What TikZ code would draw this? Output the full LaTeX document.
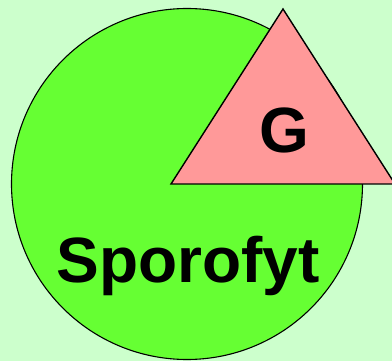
\documentclass[tikz,border=0pt]{standalone}
\usepackage{fontspec}
\setmainfont{Liberation Sans}
\usetikzlibrary{positioning}
\definecolor{bgmint}{HTML}{CCFFCC}
\definecolor{sporogreen}{HTML}{66FF33}
\definecolor{gamepink}{HTML}{FF9999}
\begin{document}
\begin{tikzpicture}[
  x=1pt, y=-1pt,
  label/.style={font=\bfseries, text=black, inner sep=0pt},
  part/.style={draw=black, line width=1.4pt, line join=miter}
]
% background
\fill[bgmint] (0,0) rectangle (392,361);
\useasboundingbox (0,0) rectangle (392,361);
% sporophyte
\filldraw[part, fill=sporogreen, line width=1.1pt] (187,184) circle[radius=175.5];
% gametophyte
\filldraw[part, fill=gamepink] (171,184) -- (283,9) -- (395,184) -- cycle;
\node[label, font=\bfseries\fontsize{64}{64}\selectfont, anchor=base] (gam) at (284,153) {G};
\node[label, font=\bfseries\fontsize{64}{64}\selectfont, anchor=base] (spo) at (188,283) {Sporofyt};
\end{tikzpicture}
\end{document}
